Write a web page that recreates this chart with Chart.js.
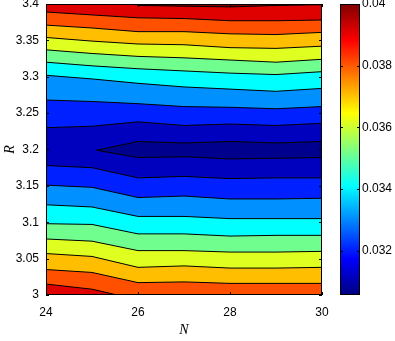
<!DOCTYPE html>
<html>
<head>
<meta charset="utf-8">
<script src="https://cdn.jsdelivr.net/npm/chart.js@4.4.1/dist/chart.umd.min.js"></script>
<style>
  html, body { margin: 0; padding: 0; background: #fff; }
  #wrap { width: 395px; height: 341px; }
</style>
</head>
<body>
<div id="wrap"><canvas id="c"></canvas></div>
<script>
// grid columns (N) and contour crossings (R)
const nCols = [24, 25, 26, 27, 28, 29, 30];

// upper branches (R > 3.2)
const n040 = [25.95, 26, 27, 28, 29, 30];
const r040up = [3.4, 3.398, 3.397, 3.396, 3.398, 3.399];
const r039up = [3.389, 3.385, 3.381, 3.380, 3.377, 3.377, 3.378];
const r038up = [3.371, 3.367, 3.362, 3.362, 3.359, 3.358, 3.361];
const r037up = [3.354, 3.349, 3.345, 3.344, 3.340, 3.339, 3.342];
const r036up = [3.337, 3.332, 3.328, 3.326, 3.323, 3.320, 3.324];
const r035up = [3.320, 3.315, 3.311, 3.308, 3.305, 3.303, 3.307];
const r034up = [3.302, 3.297, 3.291, 3.286, 3.283, 3.280, 3.284];
const r033up = [3.268, 3.266, 3.263, 3.259, 3.258, 3.256, 3.259];
const r032up = [3.230, 3.232, 3.238, 3.233, 3.235, 3.233, 3.236];

// closed minimum region (level 0.031)
const n031 = [25.1, 26, 27, 28, 29, 30];
const r031up = [3.199, 3.211, 3.209, 3.211, 3.209, 3.211];
const r031lo = [3.199, 3.189, 3.190, 3.187, 3.188, 3.189];

// lower branches (R < 3.2)
const r032lo = [3.178, 3.175, 3.161, 3.163, 3.160, 3.161, 3.161];
const r033lo = [3.151, 3.148, 3.134, 3.136, 3.132, 3.132, 3.133];
const r034lo = [3.124, 3.121, 3.108, 3.108, 3.105, 3.105, 3.105];
const r035lo = [3.098, 3.097, 3.084, 3.084, 3.081, 3.082, 3.082];
const r036lo = [3.077, 3.074, 3.061, 3.061, 3.059, 3.059, 3.060];
const r037lo = [3.057, 3.053, 3.038, 3.040, 3.037, 3.037, 3.038];
const r038lo = [3.035, 3.031, 3.017, 3.018, 3.016, 3.016, 3.016];
const n039lo = [24, 25, 25.55];
const r039lo = [3.015, 3.008, 3.0];

// band colours (jet), index 0 = below 0.031 ... 10 = above 0.040
const bandColors = ['#00008f', '#0000bf', '#0020ff', '#0090ff', '#00ffff', '#70ff8f',
                    '#dfff20', '#ffbf00', '#ff5000', '#df0000', '#800000'];

const xTicks = [24, 26, 28, 30];
const yTicks = [3, 3.05, 3.1, 3.15, 3.2, 3.25, 3.3, 3.35, 3.4];
const cbMin = 0.03057, cbMax = 0.04;
const cbTicks = [0.032, 0.034, 0.036, 0.038, 0.04];

const tickFont = { family: 'Liberation Sans', size: 12 };
const titleFont = { family: 'Liberation Serif', size: 14, style: 'italic' };

const pts = (ns, rs) => ns.map((n, i) => ({ x: n, y: rs[i] }));
const contour = (ns, rs, fill, color) => ({
    data: pts(ns, rs), fill: fill, backgroundColor: color,
    borderColor: '#000', borderWidth: 1, pointRadius: 0, tension: 0,
    xAxisID: 'x', yAxisID: 'y'
});

// highest level first: the filler paints the last dataset first
const datasets = [
    contour(n040, r040up, 'end', bandColors[10]),
    contour(nCols, r039up, 'end', bandColors[9]),
    contour(n039lo, r039lo, 'start', bandColors[9]),
    contour(nCols, r038up, 'end', bandColors[8]),
    contour(nCols, r038lo, 'start', bandColors[8]),
    contour(nCols, r037up, 'end', bandColors[7]),
    contour(nCols, r037lo, 'start', bandColors[7]),
    contour(nCols, r036up, 'end', bandColors[6]),
    contour(nCols, r036lo, 'start', bandColors[6]),
    contour(nCols, r035up, 'end', bandColors[5]),
    contour(nCols, r035lo, 'start', bandColors[5]),
    contour(nCols, r034up, 'end', bandColors[4]),
    contour(nCols, r034lo, 'start', bandColors[4]),
    contour(nCols, r033up, 'end', bandColors[3]),
    contour(nCols, r033lo, 'start', bandColors[3]),
    contour(nCols, r032up, 'end', bandColors[2]),
    contour(nCols, r032lo, 'start', bandColors[2]),
    contour(n031, r031up, '+1', bandColors[0]),
    contour(n031, r031lo, false, bandColors[0])
];

const jetStops = [[0, '#000080'], [0.125, '#0000ff'], [0.375, '#00ffff'],
                  [0.625, '#ffff00'], [0.875, '#ff0000'], [1, '#800000']];

const frame = {
    id: 'frame',
    beforeDraw(chart) {
        const a = chart.chartArea, ctx = chart.ctx;
        ctx.save();
        ctx.fillStyle = bandColors[1];
        ctx.fillRect(a.left, a.top, a.width, a.height);
        ctx.restore();
    },
    afterDatasetsDraw(chart) {
        const a = chart.chartArea, ctx = chart.ctx;
        const sx = chart.scales.x, sy = chart.scales.y, cb = chart.scales.cb;
        ctx.save();
        ctx.strokeStyle = '#000';
        ctx.lineWidth = 1;
        ctx.beginPath();
        xTicks.forEach(v => {
            const px = Math.round(sx.getPixelForValue(v)) + 0.5;
            ctx.moveTo(px, a.bottom); ctx.lineTo(px, a.bottom - 3);
            ctx.moveTo(px, a.top); ctx.lineTo(px, a.top + 3);
        });
        yTicks.forEach(v => {
            const py = Math.round(sy.getPixelForValue(v)) + 0.5;
            ctx.moveTo(a.left, py); ctx.lineTo(a.left + 3, py);
            ctx.moveTo(a.right, py); ctx.lineTo(a.right - 3, py);
        });
        ctx.stroke();
        ctx.strokeRect(Math.round(a.left) + 0.5, Math.round(a.top) + 0.5,
                       Math.round(a.width) - 1, Math.round(a.height) - 1);

        // colour bar
        const cx0 = Math.round(a.right) + 18, cw = 20;
        const cTop = cb.getPixelForValue(cbMax), cBot = cb.getPixelForValue(cbMin);
        const g = ctx.createLinearGradient(0, cBot, 0, cTop);
        jetStops.forEach(s => g.addColorStop(s[0], s[1]));
        ctx.fillStyle = g;
        ctx.fillRect(cx0, cTop, cw, cBot - cTop);
        ctx.beginPath();
        cbTicks.forEach(v => {
            const py = Math.round(cb.getPixelForValue(v)) + 0.5;
            ctx.moveTo(cx0, py); ctx.lineTo(cx0 + 3, py);
            ctx.moveTo(cx0 + cw, py); ctx.lineTo(cx0 + cw - 3, py);
        });
        ctx.stroke();
        ctx.strokeRect(cx0 + 0.5, Math.round(cTop) + 0.5, cw - 1, Math.round(cBot - cTop) - 1);
        ctx.restore();
    }
};

new Chart(document.getElementById('c'), {
    type: 'line',
    data: { datasets: datasets },
    options: {
        responsive: true, maintainAspectRatio: false, animation: false,
        layout: { padding: { top: 4, left: 0, right: 0, bottom: 0 } },
        plugins: { legend: { display: false }, tooltip: { enabled: false }, filler: { drawTime: 'beforeDatasetsDraw' } },
        scales: {
            x: {
                type: 'linear', min: 24, max: 30,
                grid: { display: false, drawTicks: false }, border: { display: false },
                ticks: { font: tickFont, color: '#000', padding: 10, maxRotation: 0 },
                afterBuildTicks: s => { s.ticks = xTicks.map(v => ({ value: v })); },
                afterFit: s => { s.height = 46; },
                title: { display: true, text: 'N', font: titleFont, color: '#000', padding: { top: 0, bottom: 2 } }
            },
            y: {
                type: 'linear', min: 3, max: 3.4,
                grid: { display: false, drawTicks: false }, border: { display: false },
                ticks: { font: tickFont, color: '#000', padding: 7, callback: v => String(+v.toFixed(2)) },
                afterBuildTicks: s => { s.ticks = yTicks.map(v => ({ value: v })); },
                afterFit: s => { s.width = 46; s.paddingTop = 0; s.paddingBottom = 0; },
                title: { display: true, text: 'R', font: titleFont, color: '#000', padding: { top: 2, bottom: 0 } }
            },
            cb: {
                type: 'linear', position: 'right', min: cbMin, max: cbMax,
                grid: { display: false, drawTicks: false }, border: { display: false },
                ticks: { font: tickFont, color: '#000', padding: 40, callback: v => String(+v.toFixed(3)) },
                afterBuildTicks: s => { s.ticks = cbTicks.map(v => ({ value: v })); },
                afterFit: s => { s.width = 73; s.paddingTop = 0; s.paddingBottom = 0; }
            }
        }
    },
    plugins: [frame]
});
</script>
</body>
</html>
